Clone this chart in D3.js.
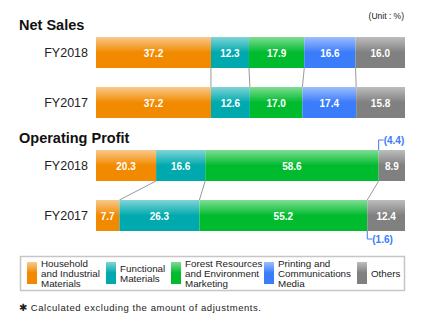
<!DOCTYPE html>
<html>
<head>
<meta charset="utf-8">
<script src="https://cdn.jsdelivr.net/npm/d3@7"></script>
<style>
  html, body { margin: 0; padding: 0; background: #fff; }
  svg { display: block; font-family: "Liberation Sans", Arial, sans-serif; }
</style>
</head>
<body>
<svg id="chart" width="425" height="330"></svg>
<script>
// Segment names (legend) and the two fiscal years compared
const segments = [
  "Household and Industrial Materials",
  "Functional Materials",
  "Forest Resources and Environment Marketing",
  "Printing and Communications Media",
  "Others"
];
const legendLines = [
  ["Household", "and Industrial", "Materials"],
  ["Functional", "Materials"],
  ["Forest Resources", "and Environment", "Marketing"],
  ["Printing and", "Communications", "Media"],
  ["Others"]
];
const years = ["FY2018", "FY2017"];

// Composition ratios (%) by segment
const netSales2018 = [37.2, 12.3, 17.9, 16.6, 16.0];
const netSales2017 = [37.2, 12.6, 17.0, 17.4, 15.8];
const opProfit2018 = [20.3, 16.6, 58.6, -4.4, 8.9];
const opProfit2017 = [7.7, 26.3, 55.2, -1.6, 12.4];

const colors = ["#f28a00", "#00a9ad", "#00bb2e", "#3b7cfb", "#808080"];
const lightColors = ["#f9c98c", "#7fd5d7", "#7fdd95", "#9dbdfd", "#bdbdbd"];

const svg = d3.select("#chart");
const defs = svg.append("defs");
colors.forEach((c, i) => {
  const g = defs.append("linearGradient")
    .attr("id", "grad" + i).attr("x1", 0).attr("y1", 0).attr("x2", 0).attr("y2", 1);
  g.append("stop").attr("offset", "0%").attr("stop-color", lightColors[i]);
  g.append("stop").attr("offset", "50%").attr("stop-color", c);
  g.append("stop").attr("offset", "100%").attr("stop-color", c);
});

const x0 = 96, x1 = 405, barH = 31;

// Cumulative layout of the positive parts; negative parts collapse to a point
function layout(values) {
  const total = d3.sum(values.filter(v => v > 0));
  const x = d3.scaleLinear().domain([0, total]).range([x0, x1]);
  let acc = 0;
  return values.map((v, i) => {
    const start = acc;
    if (v > 0) acc += v;
    return { i, v, xs: x(start), xe: x(acc) };
  });
}

function drawGroup(title, titleY, rows, yBand) {
  svg.append("text")
    .attr("x", 19).attr("y", titleY)
    .attr("font-size", 14.5).attr("font-weight", "bold").attr("fill", "#111")
    .text(title);

  const laid = rows.map(layout);

  // connectors between the two bars at each segment boundary
  const upper = laid[0], lower = laid[1];
  const seen = new Set();
  for (let k = 0; k < upper.length - 1; k++) {
    const a = upper[k].xe, b = lower[k].xe;
    const key = a.toFixed(2);
    if (seen.has(key)) continue;
    seen.add(key);
    svg.append("line")
      .attr("x1", a).attr("y1", yBand(years[0]) + barH)
      .attr("x2", b).attr("y2", yBand(years[1]))
      .attr("stroke", "#9a9a9a").attr("stroke-width", 1);
  }

  laid.forEach((segs, r) => {
    const y = yBand(years[r]);
    svg.append("text")
      .attr("x", 88).attr("y", y + barH / 2)
      .attr("text-anchor", "end").attr("dominant-baseline", "central")
      .attr("font-size", 12.5).attr("fill", "#222")
      .text(years[r]);

    const g = svg.append("g");
    g.selectAll("rect").data(segs.filter(s => s.v > 0)).join("rect")
      .attr("x", s => s.xs).attr("y", y)
      .attr("width", s => s.xe - s.xs).attr("height", barH)
      .attr("fill", s => `url(#grad${s.i})`);
    g.selectAll("text").data(segs.filter(s => s.v > 0)).join("text")
      .attr("x", s => (s.xs + s.xe) / 2).attr("y", y + barH / 2 + 0.5)
      .attr("text-anchor", "middle").attr("dominant-baseline", "central")
      .attr("font-size", 10).attr("font-weight", "bold").attr("fill", "#fff")
      .text(s => s.v.toFixed(1));

    // negative values shown as bracketed callouts
    segs.filter(s => s.v < 0).forEach(s => {
      const above = r === 0;
      const yEdge = above ? y : y + barH;
      const yTip = above ? y - 10 : y + barH + 8;
      svg.append("path")
        .attr("d", `M${s.xs},${yEdge}V${yTip}H${s.xs + 5}`)
        .attr("fill", "none").attr("stroke", colors[s.i]).attr("stroke-width", 1);
      svg.append("text")
        .attr("x", s.xs + 5).attr("y", yTip)
        .attr("dominant-baseline", "central")
        .attr("font-size", 10).attr("font-weight", "bold").attr("fill", colors[s.i])
        .text(`(${Math.abs(s.v).toFixed(1)})`);
    });
  });
}

svg.append("text")
  .attr("x", 404).attr("y", 16)
  .attr("text-anchor", "end").attr("dominant-baseline", "central")
  .attr("font-size", 8.5).attr("fill", "#222")
  .text("(Unit : %)");

const yNet = d3.scaleOrdinal().domain(years).range([37, 87]);
drawGroup("Net Sales", 30, [netSales2018, netSales2017], yNet);

const yOp = d3.scaleOrdinal().domain(years).range([150, 200]);
drawGroup("Operating Profit", 143, [opProfit2018, opProfit2017], yOp);

// Legend
svg.append("rect")
  .attr("x", 20.5).attr("y", 256.5).attr("width", 384).attr("height", 34)
  .attr("fill", "#fff").attr("stroke", "#c6c6c6").attr("stroke-width", 1.5);

const legX = [27, 106, 171, 264, 357];
segments.forEach((name, i) => {
  const item = svg.append("g").attr("transform", `translate(${legX[i]},0)`);
  item.append("rect")
    .attr("x", 0).attr("y", 262).attr("width", 10).attr("height", 22)
    .attr("fill", `url(#grad${i})`);
  const lines = legendLines[i];
  const cy = 273.5;
  const lh = 9.8;
  const t = item.append("text")
    .attr("font-size", 9.8).attr("fill", "#222");
  lines.forEach((ln, k) => {
    t.append("tspan")
      .attr("x", 14)
      .attr("y", cy + (k - (lines.length - 1) / 2) * lh + 3.5)
      .text(ln);
  });
});

svg.append("text")
  .attr("x", 19).attr("y", 307)
  .attr("dominant-baseline", "central")
  .attr("font-size", 9.5).attr("fill", "#222").attr("letter-spacing", 0.55)
  .text("✱ Calculated excluding the amount of adjustments.");
</script>
</body>
</html>
